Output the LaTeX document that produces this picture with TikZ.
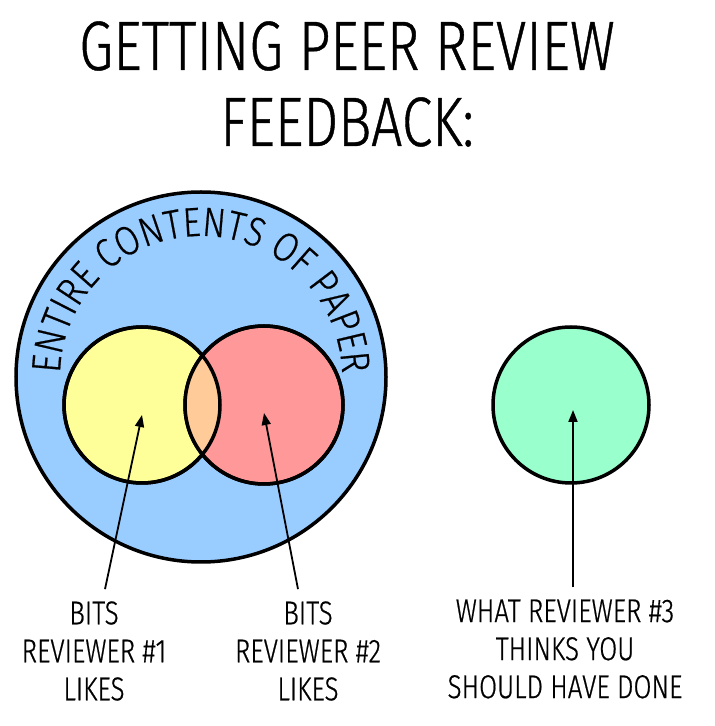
\documentclass[tikz,border=0pt]{standalone}
\usepackage{fontspec}
\usetikzlibrary{arrows.meta,decorations.text}

\newfontfamily\handfont{Fira Sans Light}[FakeStretch=0.79, FakeBold=0.6]
\newfontfamily\archand{Fira Sans Light}[FakeStretch=0.85, FakeBold=0.5]
\newcommand\titlefont{\handfont\fontsize{70}{76}\selectfont}
\newcommand\captionfont{\handfont\fontsize{33}{38}\selectfont}
\newcommand\arcfont{\archand\fontsize{41}{41}\selectfont}

\definecolor{paperblue}{HTML}{99CCFF}
\definecolor{likeyellow}{HTML}{FFFF99}
\definecolor{likered}{HTML}{FF9999}
\definecolor{likeboth}{HTML}{FFCC99}
\definecolor{wishgreen}{HTML}{99FFCC}

\begin{document}
\begin{tikzpicture}[x=1pt, y=1pt,
    venn/.style={circle, draw=black, line width=3.5pt, inner sep=0pt},
    pointer/.style={line width=1.8pt, -{Triangle[length=12pt, width=9pt]}},
    caption/.style={font=\captionfont, align=center, inner sep=0pt}]
  \useasboundingbox (0,0) rectangle (715,726);

  \node[font=\titlefont, align=center, inner sep=0pt] (title) at (347,642) {GETTING PEER REVIEW\\FEEDBACK:};

  % the paper and the two reviewers who liked it
  \node[venn, fill=paperblue, minimum size=370pt] (paper) at (201,349) {};
  \node[venn, fill=likeyellow, minimum size=156pt] (likesA) at (142,321) {};
  \node[venn, fill=likered, minimum size=158pt] (likesB) at (264,321) {};
  \begin{scope}
    \clip (likesA.center) circle[radius=78];
    \fill[likeboth] (likesB.center) circle[radius=79];
  \end{scope}
  \draw[line width=3.5pt] (likesA.center) circle[radius=78] (likesB.center) circle[radius=79];

  \path[decorate, decoration={text along path, text align=center,
      text={|\arcfont|ENTIRE CONTENTS OF PAPER}}]
    (paper.center) ++(182:141) arc[start angle=182, end angle=-2, radius=141];

  % reviewer 3
  \node[venn, fill=wishgreen, minimum size=156pt] (wish) at (571,321) {};

  \node[caption] (capA) at (94,75) {BITS\\REVIEWER \#1\\LIKES};
  \node[caption] (capB) at (308,75) {BITS\\REVIEWER \#2\\LIKES};
  \node[caption] (capC) at (565,77) {WHAT REVIEWER \#3\\THINKS YOU\\SHOULD HAVE DONE};

  \draw[pointer] ([xshift=11pt, yshift=12pt]capA.north) -- ([yshift=-10pt]likesA.center);
  \draw[pointer] ([xshift=-10pt, yshift=12pt]capB.north) -- ([yshift=-8pt]likesB.center);
  \draw[pointer] ([xshift=8pt, yshift=12pt]capC.north) -- ([xshift=2pt, yshift=-5pt]wish.center);
\end{tikzpicture}
\end{document}
